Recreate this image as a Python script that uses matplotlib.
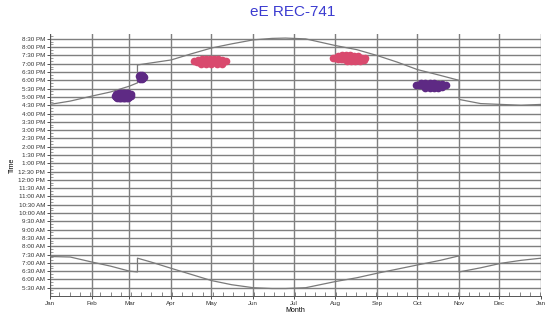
import matplotlib
matplotlib.use("Agg")
import matplotlib.pyplot as plt
import numpy as np

plt.rcParams['font.family'] = ['Liberation Sans', 'DejaVu Sans']

# day of year (0 = Jan 1) and clock hour
sunset_days = [0, 15, 31, 45, 59, 65, 65, 75, 90, 105, 120, 135, 151, 165, 175, 190, 212, 228, 243, 258, 273, 290, 304, 304, 320, 335, 350, 365]
sunset_hours = [16.55, 16.75, 17.05, 17.3, 17.65, 17.85, 18.93, 19.05, 19.23, 19.6, 19.95, 20.2, 20.44, 20.53, 20.55, 20.5, 20.1, 19.85, 19.5, 19.1, 18.65, 18.3, 18.0, 16.85, 16.6, 16.55, 16.5, 16.55]

sunrise_days = [0, 15, 31, 45, 59, 65, 65, 75, 90, 105, 120, 135, 151, 165, 175, 190, 212, 228, 243, 258, 273, 290, 304, 304, 320, 335, 350, 365]
sunrise_hours = [7.38, 7.35, 7.05, 6.8, 6.5, 6.45, 7.28, 7.05, 6.67, 6.3, 5.93, 5.68, 5.5, 5.45, 5.45, 5.5, 5.87, 6.1, 6.37, 6.62, 6.87, 7.15, 7.42, 6.45, 6.7, 6.97, 7.15, 7.28]

feb_days = [48, 49, 50, 51, 52, 53, 54, 55, 56, 57, 58, 59, 60,
            50, 51, 52, 53, 54, 55, 56, 57, 58, 59, 49, 60]
feb_hours = [17.05, 17.0, 16.95, 16.95, 16.95, 16.95, 16.95, 16.95, 16.95, 16.95, 16.95, 17.0, 17.05,
             17.2, 17.25, 17.25, 17.25, 17.25, 17.25, 17.25, 17.25, 17.25, 17.2, 17.15, 17.2]
mar_days = [66, 67, 68, 69, 70, 67, 68, 69]
mar_hours = [18.25, 18.3, 18.3, 18.25, 18.2, 18.1, 18.1, 18.12]
may_days = [107, 109, 111, 113, 115, 117, 119, 121, 123, 125, 127, 129, 131,
            110, 113, 116, 119, 122, 125, 128, 112, 116, 120, 124, 128]
may_hours = [19.15, 19.12, 19.1, 19.08, 19.08, 19.08, 19.08, 19.08, 19.08, 19.1, 19.12, 19.15, 19.15,
             19.25, 19.28, 19.3, 19.3, 19.3, 19.28, 19.25, 18.98, 18.97, 18.97, 18.98, 19.0]
aug_days = [210, 212, 214, 216, 218, 220, 222, 224, 226, 228, 230, 232, 234,
            214, 217, 220, 223, 226, 229, 221, 224, 227, 230, 233]
aug_hours = [19.35, 19.32, 19.3, 19.3, 19.3, 19.3, 19.3, 19.3, 19.3, 19.3, 19.32, 19.35, 19.35,
             19.45, 19.5, 19.52, 19.5, 19.48, 19.45, 19.18, 19.17, 19.17, 19.18, 19.22]
oct_days = [272, 274, 276, 278, 280, 282, 284, 286, 288, 290, 292, 294,
            276, 279, 282, 285, 288, 291, 279, 282, 285, 288, 291]
oct_hours = [17.72, 17.7, 17.7, 17.68, 17.68, 17.68, 17.68, 17.68, 17.68, 17.68, 17.7, 17.7,
             17.82, 17.85, 17.85, 17.83, 17.8, 17.78, 17.55, 17.52, 17.52, 17.55, 17.58]

month_starts = [0, 31, 59, 90, 120, 151, 181, 212, 243, 273, 304, 334, 365]
month_labels = ['Jan', 'Feb', 'Mar', 'Apr', 'May', 'Jun', 'Jul', 'Aug', 'Sep', 'Oct', 'Nov', 'Dec', 'Jan']

purple = '#5e2a84'
pink = '#d94a6e'


def time_label(h):
    hh = int(h)
    mm = int(round((h - hh) * 60))
    suffix = 'AM' if hh < 12 else 'PM'
    h12 = hh % 12
    if h12 == 0:
        h12 = 12
    return f"{h12}:{mm:02d} {suffix}"


fig = plt.figure(figsize=(5.47, 3.23), dpi=100)
ax = fig.add_axes([0.0914, 0.0836, 0.898, 0.8114])

ax.plot(sunset_days, sunset_hours, color='#7a7a7a', lw=0.9, zorder=3)
ax.plot(sunrise_days, sunrise_hours, color='#7a7a7a', lw=0.9, zorder=3)

for d, h, c in [(feb_days, feb_hours, purple), (mar_days, mar_hours, purple),
                (may_days, may_hours, pink), (aug_days, aug_hours, pink),
                (oct_days, oct_hours, purple)]:
    ax.plot(d, h, 'o', color=c, ms=5.5, mec=c, mew=0, ls='none', zorder=4)

ax.set_xlim(0, 365)
ax.set_ylim(5.0, 20.8)

ax.set_xticks(month_starts)
ax.set_xticklabels(month_labels, fontsize=4.5)
ax.set_xticks(np.arange(7, 365, 7.6), minor=True)

yt = np.arange(5.5, 20.51, 0.5)
ax.set_yticks(yt)
ax.set_yticklabels([time_label(h) for h in yt], fontsize=4.5)
ax.set_yticks(np.arange(5.0, 20.8, 1 / 6), minor=True)

ax.tick_params(axis='both', which='major', length=2, width=0.6, pad=1.5, colors='#333333')
ax.tick_params(axis='y', which='minor', length=2, width=0.4, direction='in', colors='#555555')
ax.tick_params(axis='x', which='minor', length=3, width=0.5, direction='in', colors='#555555')

ax.grid(True, which='major', color='#7f7f7f', lw=1.0, zorder=1)
ax.set_axisbelow(True)
for s in ['top', 'right']:
    ax.spines[s].set_visible(False)
for s in ['left', 'bottom']:
    ax.spines[s].set_color('#555555')
    ax.spines[s].set_linewidth(0.7)

ax.set_ylabel('Time', fontsize=5, labelpad=2)
ax.set_xlabel('Month', fontsize=5, labelpad=1)
fig.suptitle('eE REC-741', x=0.535, y=0.985, fontsize=11, color='#3b3bd0')

fig.savefig('out.png', dpi=100)
